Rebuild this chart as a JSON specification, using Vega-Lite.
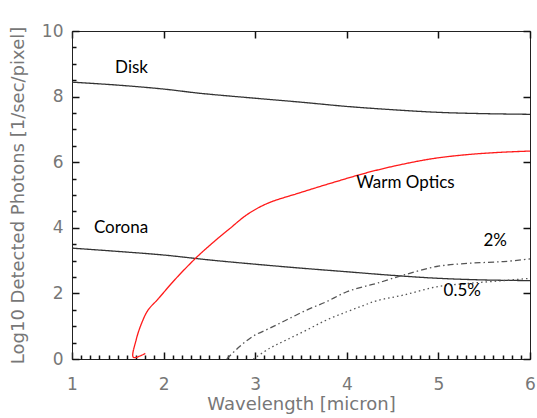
{
  "$schema": "https://vega.github.io/schema/vega-lite/v6.json",
  "autosize": "none",
  "width": 458,
  "height": 328,
  "padding": {"left": 72, "top": 31, "right": 7, "bottom": 59},
  "background": "white",
  "config": {
    "view": {"stroke": "#222", "strokeWidth": 1},
    "axis": {"grid": false}
  },
  "datasets": {
    "curves": [
      {"s": "Disk", "o": 1, "x": 1.0, "y": 8.44},
      {"s": "Disk", "o": 2, "x": 1.5, "y": 8.35},
      {"s": "Disk", "o": 3, "x": 2.0, "y": 8.23},
      {"s": "Disk", "o": 4, "x": 2.4, "y": 8.10},
      {"s": "Disk", "o": 5, "x": 3.0, "y": 7.95},
      {"s": "Disk", "o": 6, "x": 3.5, "y": 7.83},
      {"s": "Disk", "o": 7, "x": 4.0, "y": 7.70},
      {"s": "Disk", "o": 8, "x": 4.5, "y": 7.60},
      {"s": "Disk", "o": 9, "x": 5.0, "y": 7.52},
      {"s": "Disk", "o": 10, "x": 5.5, "y": 7.48},
      {"s": "Disk", "o": 11, "x": 6.0, "y": 7.46},
      {"s": "Corona", "o": 1, "x": 1.0, "y": 3.38},
      {"s": "Corona", "o": 2, "x": 1.5, "y": 3.28},
      {"s": "Corona", "o": 3, "x": 2.0, "y": 3.17},
      {"s": "Corona", "o": 4, "x": 2.5, "y": 3.02},
      {"s": "Corona", "o": 5, "x": 3.0, "y": 2.89},
      {"s": "Corona", "o": 6, "x": 3.5, "y": 2.77},
      {"s": "Corona", "o": 7, "x": 4.0, "y": 2.66},
      {"s": "Corona", "o": 8, "x": 4.5, "y": 2.55},
      {"s": "Corona", "o": 9, "x": 5.0, "y": 2.46},
      {"s": "Corona", "o": 10, "x": 5.5, "y": 2.41},
      {"s": "Corona", "o": 11, "x": 6.0, "y": 2.39},
      {"s": "Warm Optics", "o": 1, "x": 1.80, "y": 0.17},
      {"s": "Warm Optics", "o": 2, "x": 1.67, "y": 0.05},
      {"s": "Warm Optics", "o": 3, "x": 1.70, "y": 0.58},
      {"s": "Warm Optics", "o": 4, "x": 1.76, "y": 1.09},
      {"s": "Warm Optics", "o": 5, "x": 1.83, "y": 1.49},
      {"s": "Warm Optics", "o": 6, "x": 1.94, "y": 1.83},
      {"s": "Warm Optics", "o": 7, "x": 2.12, "y": 2.41},
      {"s": "Warm Optics", "o": 8, "x": 2.36, "y": 3.10},
      {"s": "Warm Optics", "o": 9, "x": 2.56, "y": 3.60},
      {"s": "Warm Optics", "o": 10, "x": 2.72, "y": 3.97},
      {"s": "Warm Optics", "o": 11, "x": 2.91, "y": 4.40},
      {"s": "Warm Optics", "o": 12, "x": 3.13, "y": 4.74},
      {"s": "Warm Optics", "o": 13, "x": 3.49, "y": 5.07},
      {"s": "Warm Optics", "o": 14, "x": 3.85, "y": 5.38},
      {"s": "Warm Optics", "o": 15, "x": 4.22, "y": 5.68},
      {"s": "Warm Optics", "o": 16, "x": 4.58, "y": 5.92},
      {"s": "Warm Optics", "o": 17, "x": 4.94, "y": 6.11},
      {"s": "Warm Optics", "o": 18, "x": 5.31, "y": 6.23},
      {"s": "Warm Optics", "o": 19, "x": 5.67, "y": 6.30},
      {"s": "Warm Optics", "o": 20, "x": 6.0, "y": 6.34},
      {"s": "2%", "o": 1, "x": 2.69, "y": 0.0},
      {"s": "2%", "o": 2, "x": 2.83, "y": 0.38},
      {"s": "2%", "o": 3, "x": 2.98, "y": 0.70},
      {"s": "2%", "o": 4, "x": 3.16, "y": 0.94},
      {"s": "2%", "o": 5, "x": 3.34, "y": 1.19},
      {"s": "2%", "o": 6, "x": 3.56, "y": 1.49},
      {"s": "2%", "o": 7, "x": 3.78, "y": 1.75},
      {"s": "2%", "o": 8, "x": 4.0, "y": 2.05},
      {"s": "2%", "o": 9, "x": 4.18, "y": 2.20},
      {"s": "2%", "o": 10, "x": 4.33, "y": 2.31},
      {"s": "2%", "o": 11, "x": 4.62, "y": 2.56},
      {"s": "2%", "o": 12, "x": 4.98, "y": 2.82},
      {"s": "2%", "o": 13, "x": 5.35, "y": 2.92},
      {"s": "2%", "o": 14, "x": 5.71, "y": 2.97},
      {"s": "2%", "o": 15, "x": 6.0, "y": 3.05},
      {"s": "0.5%", "o": 1, "x": 2.98, "y": 0.0},
      {"s": "0.5%", "o": 2, "x": 3.16, "y": 0.33},
      {"s": "0.5%", "o": 3, "x": 3.34, "y": 0.58},
      {"s": "0.5%", "o": 4, "x": 3.56, "y": 0.88},
      {"s": "0.5%", "o": 5, "x": 3.78, "y": 1.19},
      {"s": "0.5%", "o": 6, "x": 4.0, "y": 1.44},
      {"s": "0.5%", "o": 7, "x": 4.18, "y": 1.63},
      {"s": "0.5%", "o": 8, "x": 4.33, "y": 1.78},
      {"s": "0.5%", "o": 9, "x": 4.62, "y": 1.95},
      {"s": "0.5%", "o": 10, "x": 4.98, "y": 2.20},
      {"s": "0.5%", "o": 11, "x": 5.35, "y": 2.31},
      {"s": "0.5%", "o": 12, "x": 5.71, "y": 2.39},
      {"s": "0.5%", "o": 13, "x": 6.0, "y": 2.46}
    ],
    "labels": [
      {"t": "Disk", "x": 1.65, "y": 8.87},
      {"t": "Corona", "x": 1.535, "y": 3.98},
      {"t": "Warm Optics", "x": 4.64, "y": 5.37},
      {"t": "2%", "x": 5.62, "y": 3.6},
      {"t": "0.5%", "x": 5.26, "y": 2.08}
    ]
  },
  "resolve": {"axis": {"x": "independent", "y": "independent"}},
  "layer": [
    {
      "data": {"name": "curves"},
      "mark": {"type": "line", "strokeWidth": 1.3, "interpolate": "catmull-rom"},
      "encoding": {
        "x": {
          "field": "x", "type": "quantitative",
          "scale": {"domain": [1, 6], "nice": false, "zero": false},
          "axis": {
            "orient": "bottom",
            "title": "Wavelength [micron]",
            "values": [1, 2, 3, 4, 5, 6],
            "format": "d",
            "ticks": true,
            "tickSize": -7,
            "tickWidth": 1.5,
            "tickColor": "#111",
            "domainColor": "#222",
            "labelOverlap": false,
            "labelBound": false,
            "labelFlush": false,
            "labelFont": "DejaVu Sans",
            "labelFontSize": 17,
            "labelColor": "#777",
            "labelPadding": 24,
            "titleFont": "DejaVu Sans",
            "titleFontSize": 18,
            "titleFontWeight": "normal",
            "titleColor": "#777",
            "titlePadding": 3
          }
        },
        "y": {
          "field": "y", "type": "quantitative",
          "scale": {"domain": [0, 10], "nice": false, "zero": false},
          "axis": {
            "orient": "left",
            "title": "Log10 Detected Photons [1/sec/pixel]",
            "values": [0, 2, 4, 6, 8, 10],
            "format": "d",
            "ticks": true,
            "tickSize": -7,
            "tickWidth": 1.5,
            "tickColor": "#111",
            "domainColor": "#222",
            "labelOverlap": false,
            "labelBound": false,
            "labelFlush": false,
            "labelFont": "DejaVu Sans",
            "labelFontSize": 17,
            "labelColor": "#777",
            "labelPadding": 16,
            "titleFont": "DejaVu Sans",
            "titleFontSize": 18,
            "titleFontWeight": "normal",
            "titleColor": "#777",
            "titlePadding": 14
          }
        },
        "order": {"field": "o", "type": "quantitative"},
        "color": {
          "field": "s", "type": "nominal", "legend": null,
          "scale": {"domain": ["Disk", "Corona", "Warm Optics", "2%", "0.5%"], "range": ["#333", "#333", "#ff1a1a", "#555", "#555"]}
        },
        "strokeDash": {
          "field": "s", "type": "nominal", "legend": null,
          "scale": {"domain": ["Disk", "Corona", "Warm Optics", "2%", "0.5%"], "range": [[1, 0], [1, 0], [1, 0], [6, 3, 1.5, 3], [1.5, 3]]}
        }
      }
    },
    {
      "data": {"name": "labels"},
      "mark": {"type": "point", "opacity": 0},
      "encoding": {
        "x": {
          "field": "x", "type": "quantitative",
          "axis": {
            "orient": "top", "title": null, "labels": false, "domain": false, "ticks": true, "tickColor": "#111", "tickWidth": 1.5, "offset": -7, "tickSize": 7,
            "values": [1, 2, 3, 4, 5, 6]
          }
        },
        "y": {
          "field": "y", "type": "quantitative",
          "axis": {
            "orient": "right", "title": null, "labels": false, "domain": false, "ticks": true, "tickColor": "#111", "tickWidth": 1.5, "offset": -7, "tickSize": 7,
            "values": [0, 2, 4, 6, 8, 10]
          }
        }
      }
    },
    {
      "data": {"name": "labels"},
      "mark": {"type": "text", "font": "Lato", "fontSize": 17, "color": "#000", "align": "center", "baseline": "middle"},
      "encoding": {
        "x": {"field": "x", "type": "quantitative", "axis": {"orient": "bottom", "title": null, "labels": false, "ticks": true, "domain": false, "tickColor": "#111", "tickWidth": 1.5, "offset": -4, "tickSize": 4, "values": [1.1,1.2,1.3,1.4,1.5,1.6,1.7,1.8,1.9,2.1,2.2,2.3,2.4,2.5,2.6,2.7,2.8,2.9,3.1,3.2,3.3,3.4,3.5,3.6,3.7,3.8,3.9,4.1,4.2,4.3,4.4,4.5,4.6,4.7,4.8,4.9,5.1,5.2,5.3,5.4,5.5,5.6,5.7,5.8,5.9]}},
        "y": {"field": "y", "type": "quantitative", "axis": {"orient": "left", "title": null, "labels": false, "ticks": true, "domain": false, "tickColor": "#111", "tickWidth": 1.5, "offset": -4, "tickSize": 4, "values": [0.5,1,1.5,2.5,3,3.5,4.5,5,5.5,6.5,7,7.5,8.5,9,9.5]}},
        "text": {"field": "t", "type": "nominal"}
      }
    }
  ]
}
